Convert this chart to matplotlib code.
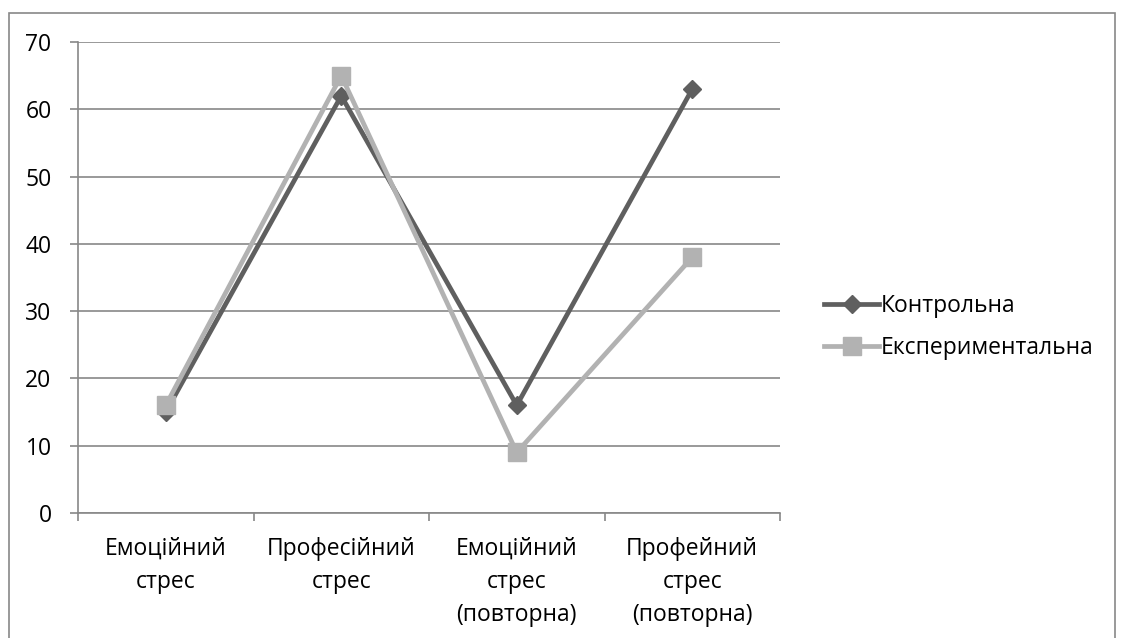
import matplotlib.pyplot as plt
from matplotlib.patches import Rectangle

# ─── Дані ────────────────────────────────────────────────────────────────────
categories = ['Емоційний\nстрес', 'Професійний\nстрес',
              'Емоційний\nстрес\n(повторна)', 'Профейний\nстрес\n(повторна)']
control = [15, 62, 16, 63]
experimental = [16, 65, 9, 38]
y_ticks = [0, 10, 20, 30, 40, 50, 60, 70]

plt.rcParams['font.family'] = ['Open Sans', 'DejaVu Sans']
FS = 16.5
GRID = '#888888'

fig = plt.figure(figsize=(11.25, 6.38), dpi=100)
ax = fig.add_axes([78 / 1125, 1 - 513 / 638, 702 / 1125, 471 / 638])

# рамка навколо всієї діаграми
fig.patches.append(Rectangle((9 / 1125, -0.05), 1106 / 1125, 1.05 - 13 / 638,
                             transform=fig.transFigure, fill=False,
                             edgecolor=GRID, linewidth=1.2))

x = list(range(1, len(categories) + 1))
ax.plot(x, control, color='#5f5f5f', linewidth=3.4, marker='D', markersize=9.5,
        label='Контрольна', zorder=3)
ax.plot(x, experimental, color='#b2b2b2', linewidth=3.4, marker='s', markersize=12.5,
        label='Експериментальна', zorder=4)

ax.set_xlim(0.5, 4.5)
ax.set_ylim(0, 70)
ax.set_yticks(y_ticks)
ax.yaxis.grid(True, color=GRID, linewidth=1.2)
ax.set_axisbelow(True)

# поділки між категоріями, підписи по центру
ax.set_xticks([0.5, 1.5, 2.5, 3.5, 4.5])
ax.set_xticklabels([])
ax.set_xticks(x, minor=True)
ax.set_xticklabels(categories, minor=True, fontsize=FS, linespacing=1.5, va='top')
ax.tick_params(axis='x', which='major', length=6, color=GRID, width=1.2)
ax.tick_params(axis='x', which='minor', length=0, pad=17)
ax.tick_params(axis='y', length=6, color=GRID, width=1.2, labelsize=FS, pad=13)

for s in ['top', 'right']:
    ax.spines[s].set_visible(False)
for s in ['left', 'bottom']:
    ax.spines[s].set_color(GRID)
    ax.spines[s].set_linewidth(1.2)

fig.legend(loc='center left', bbox_to_anchor=(813 / 1125, 1 - 327 / 638),
           frameon=False, fontsize=FS, handlelength=2.4, handletextpad=0.05,
           labelspacing=0.75, borderpad=0)

plt.savefig('out.png', dpi=100)
